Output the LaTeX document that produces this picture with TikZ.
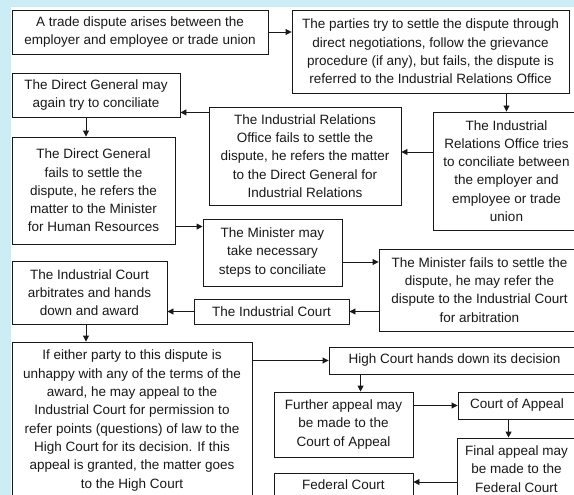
\documentclass[tikz,border=0pt]{standalone}
\usepackage{fontspec}
\setmainfont{Liberation Sans}
\usetikzlibrary{arrows.meta}
\definecolor{strip}{RGB}{204,236,246}
\definecolor{ink}{RGB}{25,25,25}
\tikzset{
  box/.style={draw=ink, line width=0.9pt, align=center, inner sep=0pt, text=ink,
    font=\fontsize{13.5}{18.3}\selectfont},
  arr/.style={draw=ink, line width=0.9pt, -{Triangle[length=6pt,width=6pt]}}
}
\begin{document}
\begin{tikzpicture}[x=1pt,y=-1pt]
\useasboundingbox (0,0) rectangle (574,495);
\clip (0,0) rectangle (574,495);
\fill[white] (0,0) rectangle (574,495);
\fill[strip] (0,0) rectangle (574,7);
\fill[strip] (0,0) rectangle (11,495);

\node[box, minimum width=256pt, minimum height=44pt] (A) at (140,32)
  {A trade dispute arises between the\\employer and employee or trade union};
\node[box, minimum width=277pt, minimum height=83pt] (B) at (430.5,51.5)
  {The parties try to settle the dispute through\\direct negotiations, follow the grievance\\procedure (if any), but fails, the dispute is\\referred to the Industrial Relations Office};
\node[box, minimum width=168pt, minimum height=44pt] (DG1) at (96,95)
  {The Direct General may\\again try to conciliate};
\node[box, minimum width=192pt, minimum height=98pt] (IROF) at (305,156)
  {The Industrial Relations\\Office fails to settle the\\dispute, he refers the matter\\to the Direct General for\\Industrial Relations};
\node[box, minimum width=147pt, minimum height=118pt] (IROT) at (506.5,171)
  {The Industrial\\Relations Office tries\\to conciliate between\\the employer and\\employee or trade\\union};
\node[box, minimum width=163pt, minimum height=107pt] (DG2) at (93.5,190.5)
  {The Direct General\\fails to settle the\\dispute, he refers the\\matter to the Minister\\for Human Resources};
\node[box, minimum width=139pt, minimum height=67pt] (MIN) at (272.5,252.5)
  {The Minister may\\take necessary\\steps to conciliate};
\node[box, minimum width=201pt, minimum height=82pt] (MINF) at (479.5,290)
  {The Minister fails to settle the\\dispute, he may refer the\\dispute to the Industrial Court\\for arbitration};
\node[box, minimum width=155pt, minimum height=25pt] (IC) at (271.5,311.5)
  {The Industrial Court};
\node[box, minimum width=155pt, minimum height=63pt] (ICA) at (89.5,292.5)
  {The Industrial Court\\arbitrates and hands\\down and award};
\node[box, minimum width=240pt, minimum height=157pt] (EITHER) at (132,420.5)
  {If either party to this dispute is\\unhappy with any of the terms of the\\award, he may appeal to the\\Industrial Court for permission to\\refer points (questions) of law to the\\High Court for its decision. If this\\appeal is granted, the matter goes\\to the High Court};
\node[box, minimum width=251pt, minimum height=27pt] (HC) at (454.5,360.5)
  {High Court hands down its decision};
\node[box, minimum width=139pt, minimum height=65pt] (FA) at (343.5,424.5)
  {Further appeal may\\be made to the\\Court of Appeal};
\node[box, minimum width=118pt, minimum height=27pt] (COA) at (517,405.5)
  {Court of Appeal};
\node[box, minimum width=119pt, minimum height=62pt] (FIN) at (516.5,469)
  {Final appeal may\\be made to the\\Federal Court};
\node[box, minimum width=139pt, minimum height=24pt] (FED) at (343.5,485)
  {Federal Court};

\coordinate (colx) at (86,0);
\coordinate (c1) at ([yshift=5pt]DG1.south east);
\coordinate (c2) at ([yshift=-8pt]MIN.north west);
\coordinate (c3) at ([yshift=-9.5pt]MIN.east);
\coordinate (c4) at ([xshift=32pt]HC.south west);
\coordinate (c5) at ([xshift=51pt]COA.south west);
\coordinate (c6) at ([yshift=3pt]FED.east);
\coordinate (c7) at ([yshift=4pt]IROF.east);

\draw[arr] (A.east) -- (A.east -| B.west);
\draw[arr] (IROT.north |- B.south) -- (IROT.north);
\draw[arr] (IROT.west |- c7) -- (c7);
\draw[arr] (IROF.west |- c1) -- (c1);
\draw[arr] (DG1.south -| colx) -- (DG2.north -| colx);
\draw[arr] (DG2.east |- c2) -- (c2);
\draw[arr] (c3) -- (c3 -| MINF.west);
\draw[arr] (MINF.west |- IC.east) -- (IC.east);
\draw[arr] (IC.west) -- (IC.west -| ICA.east);
\draw[arr] (ICA.south -| colx) -- (EITHER.north -| colx);
\draw[arr] (EITHER.east |- HC.west) -- (HC.west);
\draw[arr] (c4) -- (c4 |- FA.north);
\draw[arr] (FA.east |- COA.west) -- (COA.west);
\draw[arr] (c5) -- (c5 |- FIN.north);
\draw[arr] (FIN.west |- c6) -- (c6);
\end{tikzpicture}
\end{document}
